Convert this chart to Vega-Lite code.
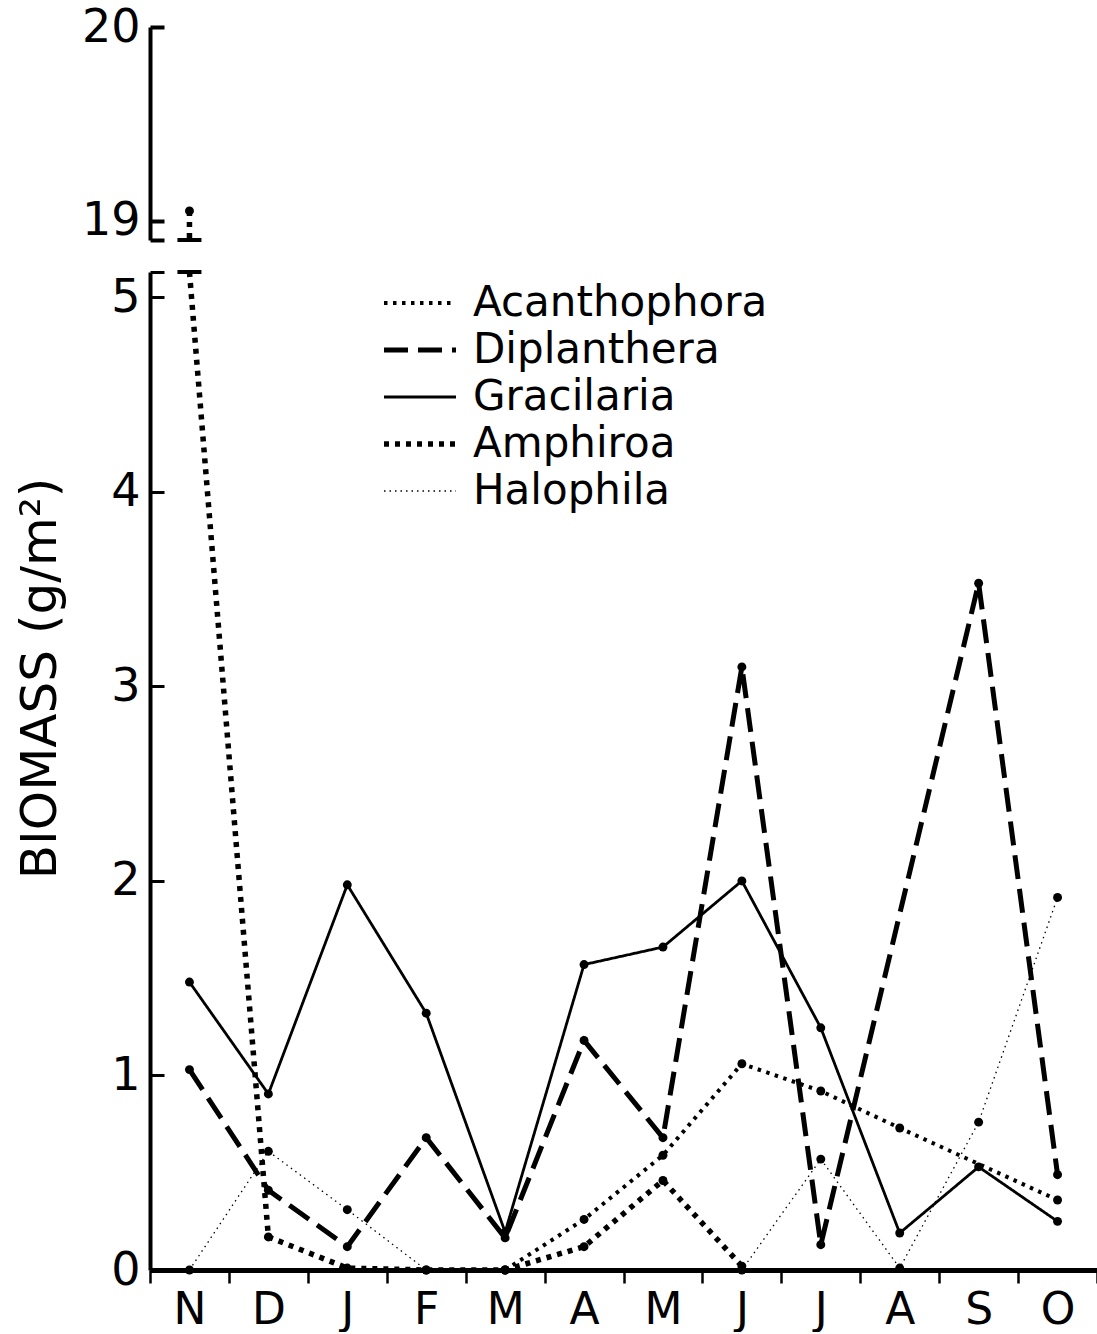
{
  "$schema": "https://vega.github.io/schema/vega-lite/v6.json",
  "padding": {"left": 15, "top": 4, "right": 0, "bottom": 0},
  "background": "white",
  "config": {
    "view": {"stroke": null},
    "font": "DejaVu Sans",
    "axis": {"labelColor": "black", "domainColor": "black", "tickColor": "black", "grid": false, "labelFont": "DejaVu Sans", "labelFontSize": 46, "labelFontWeight": "normal", "titleColor": "black", "titleFont": "DejaVu Sans", "titleFontWeight": "normal"},
    "concat": {"spacing": 17}
  },
  "datasets": {
    "biomass": [
      {"species": "Acanthophora", "month": "Mar", "value": 0},
      {"species": "Acanthophora", "month": "Apr", "value": 0.26},
      {"species": "Acanthophora", "month": "May", "value": 0.59},
      {"species": "Acanthophora", "month": "Jun", "value": 1.06},
      {"species": "Acanthophora", "month": "Jul", "value": 0.92},
      {"species": "Acanthophora", "month": "Aug", "value": 0.73},
      {"species": "Acanthophora", "month": "Oct", "value": 0.36},
      {"species": "Diplanthera", "month": "Nov", "value": 1.03},
      {"species": "Diplanthera", "month": "Dec", "value": 0.41},
      {"species": "Diplanthera", "month": "Jan", "value": 0.12},
      {"species": "Diplanthera", "month": "Feb", "value": 0.68},
      {"species": "Diplanthera", "month": "Mar", "value": 0.165},
      {"species": "Diplanthera", "month": "Apr", "value": 1.18},
      {"species": "Diplanthera", "month": "May", "value": 0.68},
      {"species": "Diplanthera", "month": "Jun", "value": 3.1},
      {"species": "Diplanthera", "month": "Jul", "value": 0.13},
      {"species": "Diplanthera", "month": "Sep", "value": 3.53},
      {"species": "Diplanthera", "month": "Oct", "value": 0.49},
      {"species": "Gracilaria", "month": "Nov", "value": 1.48},
      {"species": "Gracilaria", "month": "Dec", "value": 0.905},
      {"species": "Gracilaria", "month": "Jan", "value": 1.98},
      {"species": "Gracilaria", "month": "Feb", "value": 1.32},
      {"species": "Gracilaria", "month": "Mar", "value": 0.195},
      {"species": "Gracilaria", "month": "Apr", "value": 1.57},
      {"species": "Gracilaria", "month": "May", "value": 1.66},
      {"species": "Gracilaria", "month": "Jun", "value": 2.0},
      {"species": "Gracilaria", "month": "Jul", "value": 1.245},
      {"species": "Gracilaria", "month": "Aug", "value": 0.19},
      {"species": "Gracilaria", "month": "Sep", "value": 0.53},
      {"species": "Gracilaria", "month": "Oct", "value": 0.25},
      {"species": "Amphiroa", "month": "Nov", "value": 19.05},
      {"species": "Amphiroa", "month": "Dec", "value": 0.17},
      {"species": "Amphiroa", "month": "Jan", "value": 0.01},
      {"species": "Amphiroa", "month": "Feb", "value": 0},
      {"species": "Amphiroa", "month": "Mar", "value": 0},
      {"species": "Amphiroa", "month": "Apr", "value": 0.12},
      {"species": "Amphiroa", "month": "May", "value": 0.46},
      {"species": "Amphiroa", "month": "Jun", "value": 0.02},
      {"species": "Halophila", "month": "Nov", "value": 0},
      {"species": "Halophila", "month": "Dec", "value": 0.61},
      {"species": "Halophila", "month": "Jan", "value": 0.31},
      {"species": "Halophila", "month": "Feb", "value": 0},
      {"species": "Halophila", "month": "Mar", "value": 0},
      {"species": "Halophila", "month": "Jun", "value": 0},
      {"species": "Halophila", "month": "Jul", "value": 0.57},
      {"species": "Halophila", "month": "Aug", "value": 0.01},
      {"species": "Halophila", "month": "Sep", "value": 0.76},
      {"species": "Halophila", "month": "Oct", "value": 1.915}
    ]
  },
  "vconcat": [
    {
      "width": 947,
      "height": 213,
      "data": {"name": "biomass"},
      "transform": [{"filter": "datum.value > 18"}],
      "layer": [
        {
          "mark": {"type": "rule", "strokeDash": [5, 6], "strokeWidth": 5.5, "color": "black"},
          "encoding": {
            "x": {"field": "month", "type": "ordinal", "scale": {"type": "band", "domain": ["Nov","Dec","Jan","Feb","Mar","Apr","May","Jun","Jul","Aug","Sep","Oct"], "paddingInner": 0, "paddingOuter": 0}, "axis": null},
            "y": {"field": "value", "type": "quantitative", "scale": {"domain": [18.9, 20], "nice": false, "zero": false},
              "axis": {"values": [18.9, 19, 20], "tickCount": 50, "labelExpr": "datum.value < 18.95 ? '' : format(datum.value, 'd')", "title": null, "tickSize": -14, "tickWidth": 4, "domainWidth": 4, "labelPadding": 24}},
            "y2": {"datum": 18.9}
          }
        },
        {
          "mark": {"type": "point", "filled": true, "size": 80, "color": "black", "opacity": 1},
          "encoding": {
            "x": {"field": "month", "type": "ordinal"},
            "y": {"field": "value", "type": "quantitative"}
          }
        },
        {
          "mark": {"type": "tick", "thickness": 4, "size": 24, "color": "black", "opacity": 1},
          "encoding": {
            "x": {"field": "month", "type": "ordinal"},
            "y": {"datum": 18.9}
          }
        }
      ]
    },
    {
      "width": 947,
      "height": 998,
      "data": {"name": "biomass"},
      "layer": [
        {
          "mark": {"type": "line", "color": "black", "strokeWidth": {"expr": "(datum.species || datum.value) == 'Amphiroa' ? 5.5 : (datum.species || datum.value) == 'Diplanthera' ? 5 : (datum.species || datum.value) == 'Acanthophora' ? 4 : (datum.species || datum.value) == 'Gracilaria' ? 2.8 : 1.3"}},
          "encoding": {
            "x": {"field": "month", "type": "ordinal", "scale": {"type": "band", "domain": ["Nov","Dec","Jan","Feb","Mar","Apr","May","Jun","Jul","Aug","Sep","Oct"], "paddingInner": 0, "paddingOuter": 0},
              "axis": {"title": null, "tickBand": "extent", "tickSize": 13, "tickWidth": 2.5, "domainWidth": 5, "labelPadding": 5, "labelAngle": 0, "labelFontSize": 44, "labelExpr": "substring(datum.label, 0, 1)"}},
            "y": {"field": "value", "type": "quantitative", "scale": {"domain": [0, 5.13], "nice": false, "clamp": true},
              "axis": {"values": [0, 1, 2, 3, 4, 5, 5.13], "tickCount": 50, "labelExpr": "datum.value > 5.05 ? '' : format(datum.value, 'd')", "title": "BIOMASS  (g/m²)", "titleFontSize": 50, "titleX": -110, "titleY": 406, "titleAlign": "center", "titleBaseline": "middle", "tickSize": -14, "tickWidth": 3, "domainWidth": 4, "labelPadding": 24}},
            "strokeDash": {"field": "species", "type": "nominal",
              "scale": {"domain": ["Acanthophora", "Diplanthera", "Gracilaria", "Amphiroa", "Halophila"], "range": [[3.5, 5.5], [24, 10], [1, 0], [5, 6], [1.5, 4]]},
              "legend": {"orient": "none", "legendX": 249, "legendY": 255, "title": null, "symbolType": "M-3,0H3", "symbolSize": 576, "symbolStrokeColor": "black",
                "symbolStrokeWidth": {"expr": "datum.value == 'Amphiroa' ? 5.5 : datum.value == 'Diplanthera' ? 5 : datum.value == 'Acanthophora' ? 4 : datum.value == 'Gracilaria' ? 2.8 : 1.3"},
                "labelFontSize": 42, "labelFont": "DejaVu Sans", "labelColor": "black", "labelOffset": 32, "labelLimit": 0, "rowPadding": 5}}
          }
        },
        {
          "transform": [{"filter": "datum.value <= 5.13"}],
          "mark": {"type": "point", "filled": true, "size": 80, "color": "black", "opacity": 1},
          "encoding": {
            "x": {"field": "month", "type": "ordinal"},
            "y": {"field": "value", "type": "quantitative"}
          }
        },
        {
          "transform": [{"filter": "datum.value > 5.13"}],
          "mark": {"type": "tick", "thickness": 4, "size": 24, "color": "black", "opacity": 1},
          "encoding": {
            "x": {"field": "month", "type": "ordinal"},
            "y": {"datum": 5.13}
          }
        }
      ]
    }
  ]
}
